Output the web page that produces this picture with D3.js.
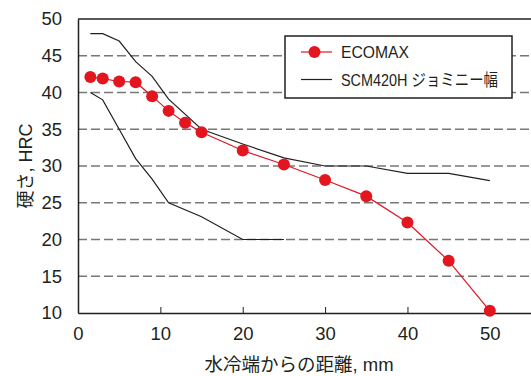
<!DOCTYPE html>
<html>
<head>
<meta charset="utf-8">
<script src="https://cdn.jsdelivr.net/npm/d3@7"></script>
<style>
  body { margin: 0; background: #fff; }
  text { font-family: "Liberation Sans", Arial, "Noto Sans CJK JP", sans-serif; fill: #231f20; }
</style>
</head>
<body>
<div id="chart"></div>
<script>
// ECOMAX measured hardness
const ecoDist = [1.5, 3, 5, 7, 9, 11, 13, 15, 20, 25, 30, 35, 40, 45, 50];
const ecoHrc = [42.1, 41.9, 41.5, 41.4, 39.5, 37.5, 35.9, 34.6, 32.1, 30.2, 28.1, 25.9, 22.3, 17.1, 10.3];
// SCM420H Jominy band (upper / lower)
const bandHiDist = [1.5, 3, 5, 7, 9, 11, 15, 20, 25, 30, 35, 40, 45, 50];
const bandHiHrc = [48, 48, 47, 44.2, 42.2, 39.1, 35, 33, 31.1, 30, 30, 29, 29, 28];
const bandLoDist = [1.5, 3, 5, 7, 9, 11, 15, 20, 25];
const bandLoHrc = [40, 39, 35, 31, 28.2, 25, 23.1, 20, 20];
const xTicks = [0, 10, 20, 30, 40, 50];
const yTicks = [10, 15, 20, 25, 30, 35, 40, 45, 50];
const gridVals = [15, 20, 25, 30, 35, 40, 45];
const legendNames = ['ECOMAX', 'SCM420H ジョミニー幅'];

const width = 531, height = 376;
const margin = { top: 19, right: 0, bottom: 63, left: 78 };
const red = '#e3151f';

const svg = d3.select('#chart').append('svg')
  .attr('width', width)
  .attr('height', height);

const x = d3.scaleLinear().domain([0, 55]).range([margin.left, width - margin.right]);
const y = d3.scaleLinear().domain([10, 50]).range([height - margin.bottom, margin.top]);

// dashed grid
svg.selectAll('.grid')
  .data(gridVals)
  .enter().append('line')
  .attr('x1', x(0)).attr('x2', x(55))
  .attr('y1', d => y(d)).attr('y2', d => y(d))
  .attr('stroke', '#777')
  .attr('stroke-width', 1.5)
  .attr('stroke-dasharray', '9,4');

// top frame
svg.append('line')
  .attr('x1', x(0)).attr('x2', x(55))
  .attr('y1', y(50)).attr('y2', y(50))
  .attr('stroke', '#231f20').attr('stroke-width', 1.5);

// axes
const xAxis = svg.append('g')
  .attr('transform', `translate(0,${y(10)})`)
  .call(d3.axisBottom(x).tickValues(xTicks).tickSize(-6).tickPadding(14).tickSizeOuter(0));
xAxis.select('.domain').attr('stroke', '#231f20').attr('stroke-width', 1.5);
xAxis.selectAll('.tick line').attr('stroke', '#231f20');
xAxis.selectAll('.tick text').attr('font-size', 18.5).style('font-family', '"Liberation Sans", Arial, sans-serif');

const yAxis = svg.append('g')
  .attr('transform', `translate(${x(0)},0)`)
  .call(d3.axisLeft(y).tickValues(yTicks).tickSize(0).tickPadding(16).tickSizeOuter(0));
yAxis.select('.domain').attr('stroke', '#231f20').attr('stroke-width', 1.5);
yAxis.selectAll('.tick text').attr('font-size', 18.5).style('font-family', '"Liberation Sans", Arial, sans-serif');

// band lines
const line = d3.line().x(d => x(d[0])).y(d => y(d[1]));
[[bandHiDist, bandHiHrc], [bandLoDist, bandLoHrc]].forEach(([ds, hs]) => {
  svg.append('path')
    .datum(ds.map((d, i) => [d, hs[i]]))
    .attr('d', line)
    .attr('fill', 'none')
    .attr('stroke', '#231f20')
    .attr('stroke-width', 1.2);
});

// ECOMAX
const eco = ecoDist.map((d, i) => [d, ecoHrc[i]]);
svg.append('path')
  .datum(eco)
  .attr('d', line)
  .attr('fill', 'none')
  .attr('stroke', red)
  .attr('stroke-width', 1.2);
svg.selectAll('.dot')
  .data(eco)
  .enter().append('circle')
  .attr('cx', d => x(d[0]))
  .attr('cy', d => y(d[1]))
  .attr('r', 6)
  .attr('fill', red);

// legend
const lg = svg.append('g');
lg.append('rect')
  .attr('x', 285).attr('y', 36)
  .attr('width', 227).attr('height', 62)
  .attr('fill', '#fff')
  .attr('stroke', '#231f20').attr('stroke-width', 1.5);
legendNames.forEach((name, i) => {
  const ly = 52 + i * 27.5;
  lg.append('line')
    .attr('x1', 301).attr('x2', 332)
    .attr('y1', ly).attr('y2', ly)
    .attr('stroke', i === 0 ? red : '#231f20')
    .attr('stroke-width', 1.2);
  if (i === 0) {
    lg.append('circle').attr('cx', 314.5).attr('cy', ly).attr('r', 6).attr('fill', red);
  }
  lg.append('text')
    .attr('x', 341).attr('y', ly + 6)
    .attr('font-size', 16.5)
    .attr('textLength', i === 0 ? 68 : 157)
    .attr('lengthAdjust', 'spacingAndGlyphs')
    .text(name);
});

// axis titles
svg.append('text')
  .attr('transform', `translate(32,${166}) rotate(-90)`)
  .attr('text-anchor', 'middle')
  .attr('font-size', 18)
  .text('硬さ, HRC');
svg.append('text')
  .attr('x', 299).attr('y', 371)
  .attr('text-anchor', 'middle')
  .attr('font-size', 18.5)
  .text('水冷端からの距離, mm');
</script>
</body>
</html>
